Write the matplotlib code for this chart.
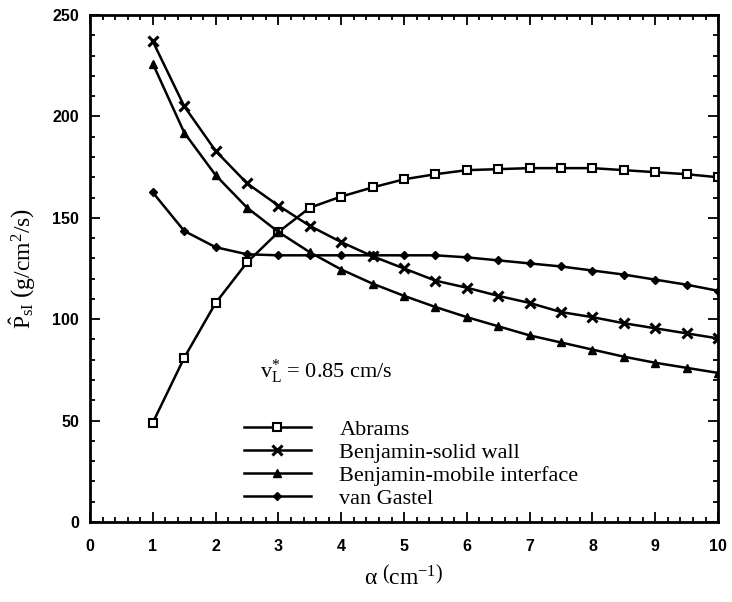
import matplotlib
matplotlib.use('Agg')
import matplotlib.pyplot as plt
from matplotlib.ticker import MultipleLocator

plt.rcParams['mathtext.fontset'] = 'custom'
plt.rcParams['mathtext.rm'] = 'Liberation Serif'
plt.rcParams['mathtext.it'] = 'Liberation Serif:italic'

alpha = [1, 1.5, 2, 2.5, 3, 3.5, 4, 4.5, 5, 5.5, 6, 6.5, 7, 7.5, 8, 8.5, 9, 9.5, 10]
abrams = [49, 81, 108, 128, 143, 155, 160.5, 165, 169, 171.5, 173.5, 174, 174.5,
          174.5, 174.5, 173.5, 172.5, 171.5, 170]
solid_wall = [237, 205, 183, 167, 156, 146, 138, 131, 125, 119, 115.5, 111.5, 108,
              103.5, 101, 98, 95.5, 93, 90.5]
mobile = [226, 192, 171, 155, 143, 133, 124.5, 117.5, 111.5, 106, 101, 96.5, 92,
          88.5, 85, 81.5, 78.5, 76, 73.5]
van_gastel = [162.5, 143.5, 135.5, 132, 131.5, 131.5, 131.5, 131.5, 131.5, 131.5,
              130.5, 129, 127.5, 126, 124, 122, 119.5, 117, 114]

fig = plt.figure(figsize=(7.32, 6.02), dpi=100)
ax = fig.add_axes([0.123, 0.133, 0.858, 0.842])

ax.plot(alpha, abrams, '-', color='k', lw=1.8, marker='s', ms=6,
        mfc='white', mec='k', mew=1.5, label='Abrams')
ax.plot(alpha, solid_wall, '-', color='k', lw=1.8, marker='x', ms=7,
        mew=2.2, label='Benjamin-solid wall')
ax.plot(alpha, mobile, '-', color='k', lw=1.8, marker='^', ms=6,
        mfc='k', mec='k', label='Benjamin-mobile interface')
ax.plot(alpha, van_gastel, '-', color='k', lw=1.8, marker='D', ms=4.5,
        mfc='k', mec='k', label='van Gastel')

ax.set_xlim(0, 10)
ax.set_ylim(0, 250)
ax.xaxis.set_major_locator(MultipleLocator(1))
ax.xaxis.set_minor_locator(MultipleLocator(0.2))
ax.yaxis.set_major_locator(MultipleLocator(50))
ax.yaxis.set_minor_locator(MultipleLocator(10))
ax.tick_params(which='both', direction='in', top=True, right=True, width=1.3)
ax.tick_params(which='major', length=7)
ax.tick_params(which='minor', length=3.5)
ax.tick_params(axis='x', which='major', pad=12)
ax.tick_params(axis='y', which='major', pad=8)
for s in ax.spines.values():
    s.set_linewidth(2)

for lab in ax.get_xticklabels() + ax.get_yticklabels():
    lab.set_fontfamily('Liberation Sans')
    lab.set_fontweight('bold')
    lab.set_fontsize(11.5)

ax.set_xlabel(r'$\mathrm{\alpha}\ \left(\mathrm{cm^{-1}}\right)$', fontsize=17, labelpad=8)
ax.set_ylabel(r'$\hat{\mathrm{P}}_{\mathrm{sI}}\ \left(\mathrm{g/cm^{2}/s}\right)$',
              fontsize=17, labelpad=10)

ax.text(2.7, 74, r'$\mathrm{v_L^{*}}$ = 0.85 cm/s', fontsize=16,
        family='Liberation Serif', ha='left', va='center')

ax.legend(loc='upper left', bbox_to_anchor=(0.245, 0.203), frameon=False,
          borderaxespad=0, borderpad=0,
          prop={'family': 'Liberation Serif', 'size': 16}, handlelength=3.0,
          handletextpad=1.3, labelspacing=0.12)

fig.savefig('out.png', dpi=100)
